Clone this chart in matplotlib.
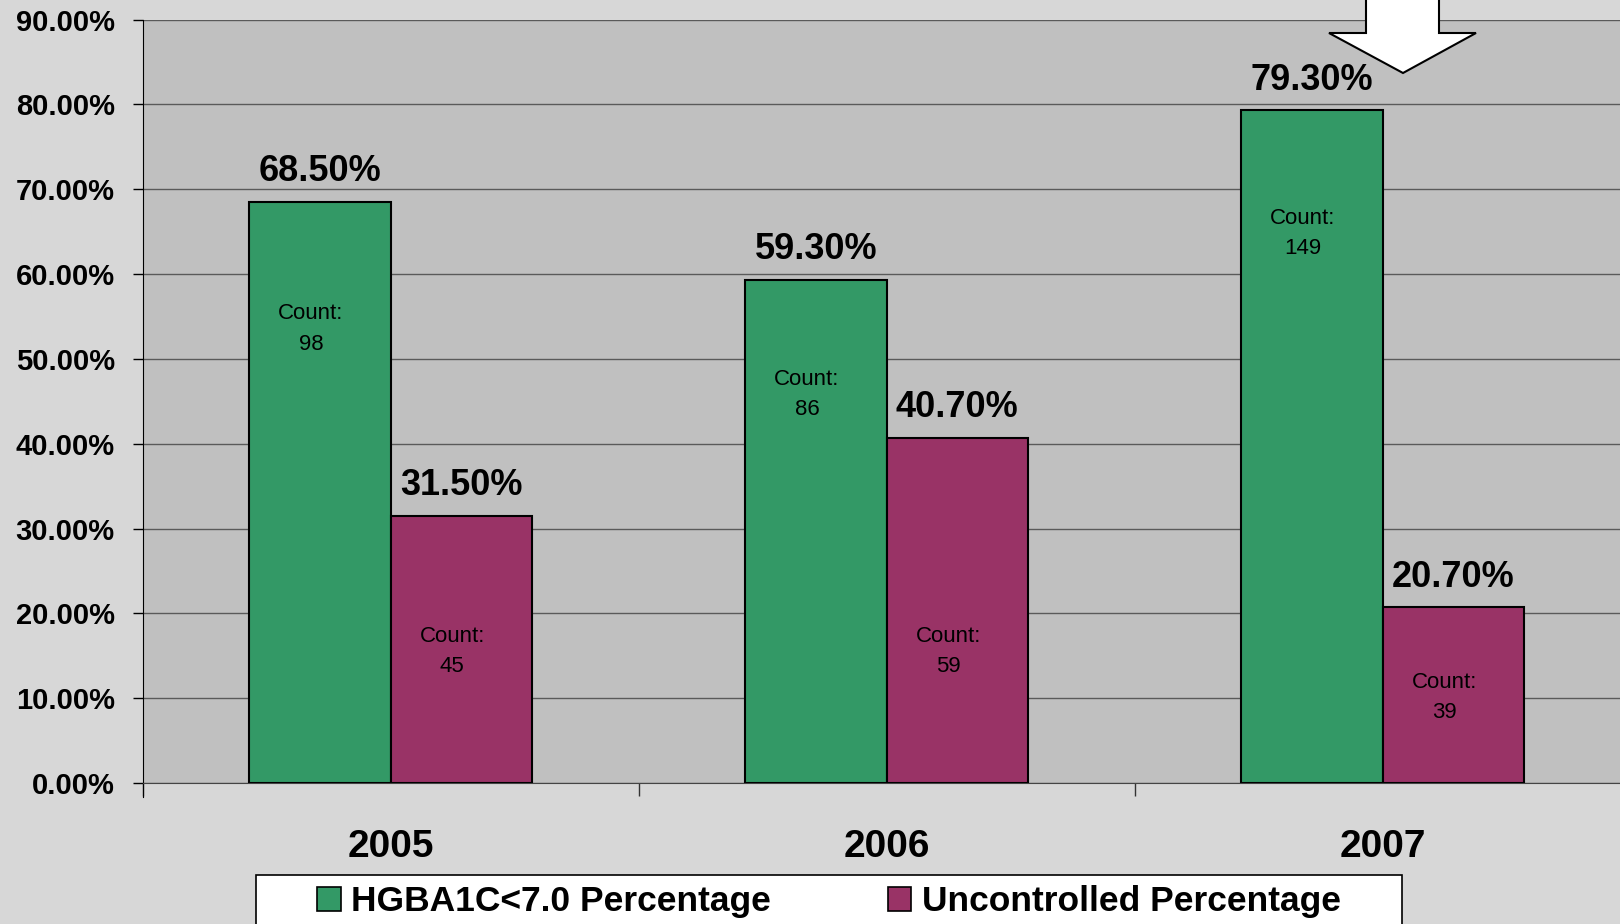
import numpy as np
import matplotlib
matplotlib.use('Agg')
import matplotlib.pyplot as plt
from matplotlib.patches import Patch, Polygon, Rectangle

plt.rcParams['font.family'] = ['Liberation Sans', 'DejaVu Sans']

# data
years = ['2005', '2006', '2007']
controlled = [68.5, 59.3, 79.3]
uncontrolled = [31.5, 40.7, 20.7]
controlled_counts = [98, 86, 149]
uncontrolled_counts = [45, 59, 39]
# heights (in %) where the hand placed "Count" boxes sit
controlled_count_y = [53.5, 45.8, 64.8]
uncontrolled_count_y = [15.5, 15.5, 10.1]
series_names = ['HGBA1C<7.0 Percentage', 'Uncontrolled Percentage']

green = '#339966'
purple = '#993366'

fig = plt.figure(figsize=(16.2, 9.24), dpi=100, facecolor='#d7d7d7')
ax = fig.add_axes([0.088, 0.1526, 0.9185, 0.8262])
ax.set_facecolor('#c0c0c0')

x = np.arange(len(years))
w = 0.285
ax.bar(x - w / 2, controlled, w, color=green, edgecolor='black', linewidth=1.5, zorder=3)
ax.bar(x + w / 2, uncontrolled, w, color=purple, edgecolor='black', linewidth=1.5, zorder=3)

# value labels on top of bars
for xi, v in zip(x - w / 2, controlled):
    ax.annotate('%.2f%%' % v, (xi, v), xytext=(0, 15), textcoords='offset points',
                ha='center', va='baseline', fontsize=26, fontweight='bold', zorder=5)
for xi, v in zip(x + w / 2, uncontrolled):
    ax.annotate('%.2f%%' % v, (xi, v), xytext=(0, 15), textcoords='offset points',
                ha='center', va='baseline', fontsize=26, fontweight='bold', zorder=5)

# count labels inside the bars
for xi, c, yc in zip(x - w / 2, controlled_counts, controlled_count_y):
    ax.text(xi - 0.018, yc, 'Count:\n%d' % c, ha='center', va='center', fontsize=16,
            linespacing=1.6, zorder=5)
for xi, c, yc in zip(x + w / 2, uncontrolled_counts, uncontrolled_count_y):
    ax.text(xi - 0.018, yc, 'Count:\n%d' % c, ha='center', va='center', fontsize=16,
            linespacing=1.6, zorder=5)

ax.set_xlim(-0.5, len(years) - 0.5)
ax.set_ylim(0, 90)
ax.set_yticks(np.arange(0, 91, 10))
ax.set_yticklabels(['%.2f%%' % t for t in np.arange(0, 91, 10)])
ax.yaxis.grid(True, color='#5a5a5a', linewidth=1.0, zorder=1)
ax.set_axisbelow(True)
ax.tick_params(axis='y', direction='out', length=7, width=1, pad=13, labelsize=21)
for lab in ax.get_yticklabels():
    lab.set_fontweight('bold')

ax.set_xticks(x)
ax.set_xticklabels(years, fontsize=28, fontweight='bold')
ax.set_xticks(np.arange(-0.5, len(years), 1), minor=True)
ax.tick_params(axis='x', which='major', length=0, pad=33)
ax.tick_params(axis='x', which='minor', direction='out', length=9.5, width=1, color='#333333')

ax.spines['left'].set_color('black')
ax.spines['left'].set_bounds(-1.6, 90)
ax.spines['bottom'].set_color('#444444')
ax.spines['top'].set_visible(False)
ax.spines['right'].set_visible(False)

# legend box (clipped at the bottom like the original)
W, H = 1620.0, 924.0
fig.patches.append(Rectangle((256 / W, -0.05), (1402 - 256) / W, 0.05 + (924 - 875) / H,
                             transform=fig.transFigure, facecolor='white',
                             edgecolor='black', linewidth=1.2, zorder=1))
handles = [Patch(facecolor=green, edgecolor='black', linewidth=1.2),
           Patch(facecolor=purple, edgecolor='black', linewidth=1.2)]
leg = fig.legend(handles, series_names, loc='center', bbox_to_anchor=(829 / W, 1 - 902 / H),
                 ncol=2, frameon=False, prop={'size': 25.5, 'weight': 'bold'},
                 handlelength=0.65, handleheight=0.65, handletextpad=0.3, columnspacing=3.3)
leg.set_zorder(2)

# white arrow pointing down at the 2007 bar
arrow_pts = [(1366, -20), (1439, -20), (1439, 33), (1476, 33), (1403, 73),
             (1329, 33), (1366, 33)]
fig.patches.append(Polygon([(px / W, 1 - py / H) for px, py in arrow_pts], closed=True,
                           transform=fig.transFigure, facecolor='white',
                           edgecolor='black', linewidth=1.5, zorder=10))

fig.savefig('out.png', dpi=100, facecolor=fig.get_facecolor())
